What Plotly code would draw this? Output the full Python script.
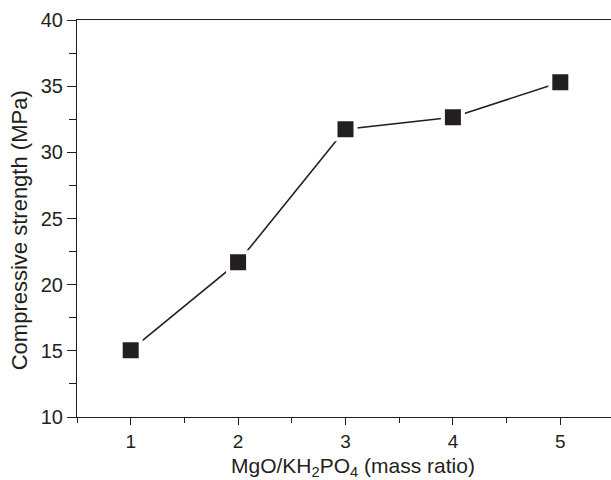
import plotly.graph_objects as go

# MgO/KH2PO4 mass ratio vs. compressive strength
mass_ratio = [1, 2, 3, 4, 5]
strength_mpa = [15.05, 21.7, 31.75, 32.65, 35.3]

ink = "#231f20"
font_family = "Liberation Sans, Arial, sans-serif"

fig = go.Figure(
    go.Scatter(
        x=mass_ratio,
        y=strength_mpa,
        mode="lines+markers",
        line=dict(color=ink, width=1.6),
        marker=dict(symbol="square", size=20, color=ink,
                    line=dict(color="white", width=4)),
        showlegend=False,
    )
)

fig.update_layout(
    width=611,
    height=480,
    margin=dict(l=77, r=0, t=20, b=63),
    paper_bgcolor="white",
    plot_bgcolor="white",
    font=dict(family=font_family, color=ink, size=20),
    annotations=[
        dict(text="Compressive strength (MPa)", textangle=-90,
             xref="paper", yref="paper", x=-0.107, y=0.47,
             xanchor="center", yanchor="middle", showarrow=False,
             font=dict(size=22, family=font_family, color=ink)),
        dict(text="MgO/KH<sub>2</sub>PO<sub>4</sub> (mass ratio)",
             xref="paper", yref="paper", x=0.517, y=-0.127,
             xanchor="center", yanchor="middle", showarrow=False,
             font=dict(size=21, family=font_family, color=ink)),
    ],
)

fig.update_xaxes(
    range=[0.5, 5.472],
    tickmode="array",
    tickvals=mass_ratio,
    ticks="outside",
    ticklen=7,
    tickwidth=1.2,
    tickcolor=ink,
    minor=dict(tickmode="array", tickvals=[0.5, 1.5, 2.5, 3.5, 4.5, 5.5],
               ticks="outside", ticklen=5, tickwidth=1.2, tickcolor=ink),
    showline=True,
    linecolor=ink,
    linewidth=1.2,
    mirror=True,
    showgrid=False,
    zeroline=False,
    tickfont=dict(size=19, family=font_family, color=ink),
)

fig.update_yaxes(
    range=[10, 40],
    tickvals=[10, 15, 20, 25, 30, 35, 40],
    ticks="outside",
    ticklen=9,
    tickwidth=1.2,
    tickcolor=ink,
    minor=dict(tickmode="array", tickvals=[12.5, 17.5, 22.5, 27.5, 32.5, 37.5],
               ticks="outside", ticklen=7, tickwidth=1.2, tickcolor=ink),
    showline=True,
    linecolor=ink,
    linewidth=1.2,
    mirror=False,
    showgrid=False,
    zeroline=False,
    tickfont=dict(size=20, family=font_family, color=ink),
)

fig.write_html("out.html")
